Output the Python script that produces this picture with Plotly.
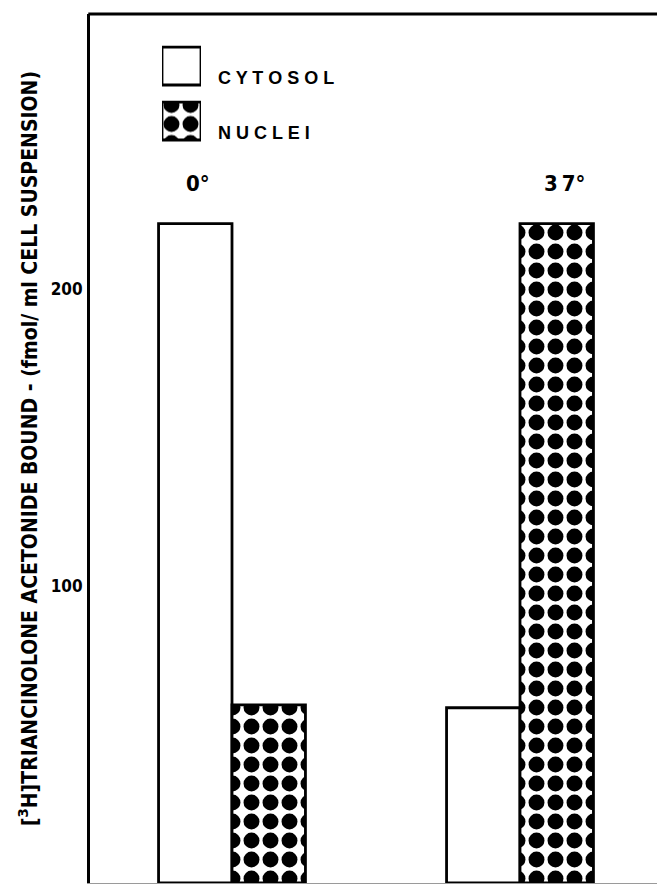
import plotly.graph_objects as go

# Temperatures of incubation (groups) and the two cell fractions (series)
temperatures = ["0°", "37°"]
fractions = ["CYTOSOL", "NUCLEI"]
cytosol_bound = [222, 59]      # fmol / ml cell suspension
nuclei_bound = [60, 222]       # fmol / ml cell suspension
y_ticks = [0, 100, 200]
y_title = "[<sup>3</sup>H]TRIANCINOLONE ACETONIDE BOUND - (fmol/ ml CELL SUSPENSION)"

NARROW = "Liberation Sans Narrow, Arial Narrow, DejaVu Sans Condensed, sans-serif"
BOLD = "Liberation Sans, Arial, Helvetica, sans-serif"

W, H = 657, 885
M_L, M_R, M_T, M_B = 90, 0, 14, 2
plot_w = W - M_L - M_R
plot_h = H - M_T - M_B

DOTS = dict(shape=".", size=19, solidity=0.55, fgcolor="black",
            bgcolor="white", fillmode="replace")
NO_DOTS = dict(shape="", fgcolor="black", bgcolor="white")
OUTLINE = dict(color="black", width=2.8)

fig = go.Figure()

fig.add_trace(go.Bar(
    x=temperatures, y=cytosol_bound, name=fractions[0],
    marker=dict(color="white", line=OUTLINE, pattern=NO_DOTS),
    showlegend=False, xaxis="x", yaxis="y",
))
fig.add_trace(go.Bar(
    x=temperatures, y=nuclei_bound, name=fractions[1],
    marker=dict(color="white", line=OUTLINE, pattern=DOTS),
    showlegend=False, xaxis="x", yaxis="y",
))

# Key swatches: one horizontal bar per fraction in a small inset subplot
fig.add_trace(go.Bar(
    y=fractions, x=[1, 1], orientation="h", width=0.69,
    marker=dict(color="white", line=dict(color="black", width=2.8),
                pattern=dict(shape=["", "."], size=19, solidity=0.55,
                             fgcolor="black", bgcolor="white",
                             fillmode="replace")),
    showlegend=False, hoverinfo="skip", xaxis="x2", yaxis="y2",
))

def px_to_paper_x(px):
    return (px - M_L) / plot_w

def px_to_paper_y(py):
    return (H - M_B - py) / plot_h

# category centre at 232 px, spacing 288 px per category
cat_px = 288.0
x0 = -(232 - M_L) / cat_px
x1 = x0 + plot_w / cat_px

fig.update_layout(
    width=W, height=H,
    margin=dict(l=M_L, r=M_R, t=M_T, b=M_B, pad=0),
    paper_bgcolor="white", plot_bgcolor="white",
    barmode="group", bargap=0.49, bargroupgap=0.0,
    showlegend=False,
    xaxis=dict(
        domain=[0, 1], range=[x0, x1], type="category",
        showticklabels=False, ticks="", showgrid=False, zeroline=False,
        showline=True, linecolor="#9a9a9a", linewidth=1,
    ),
    yaxis=dict(
        domain=[0, 1], range=[0, 292.6],
        tickvals=y_ticks, ticktext=[str(v) for v in y_ticks],
        tickfont=dict(family=NARROW, size=17, color="black", weight="bold"),
        ticks="", ticklabelstandoff=1,
        showgrid=False, zeroline=False,
        showline=True, linecolor="black", linewidth=3,
        title=dict(text=y_title, standoff=8,
                   font=dict(family=NARROW, size=21, color="black",
                             weight="bold")),
    ),
    xaxis2=dict(
        domain=[px_to_paper_x(162), px_to_paper_x(201)], range=[0, 1],
        anchor="y2", visible=False, fixedrange=True,
    ),
    yaxis2=dict(
        domain=[px_to_paper_y(148.5), px_to_paper_y(38.5)],
        anchor="x2", type="category", categoryorder="array",
        categoryarray=fractions[::-1], range=[-0.5, 1.5],
        visible=False, fixedrange=True,
    ),
    shapes=[dict(type="line", xref="paper", yref="paper",
                 x0=-0.003, x1=1, y0=1, y1=1,
                 line=dict(color="black", width=3))],
)

# Fraction names beside the key swatches, level with the swatch bottom
for name in fractions:
    fig.add_annotation(
        x=1, y=name, xref="x2", yref="y2", xanchor="left", yanchor="middle",
        xshift=15, yshift=-12, showarrow=False,
        text=" ".join(name),
        font=dict(family=BOLD, size=18, color="black", weight="bold"),
    )

# Temperature labels above the taller bar of each group
label_shift = {"0°": -34, "37°": 44}
for t, c, n in zip(temperatures, cytosol_bound, nuclei_bound):
    fig.add_annotation(
        x=t, y=max(c, n), xref="x", yref="y", yanchor="bottom",
        xshift=label_shift[t], yshift=26, showarrow=False,
        text="\u2009".join(t[:-1]) + t[-1],
        font=dict(family=NARROW, size=22, color="black", weight="bold"),
    )

fig.write_html("out.html")
